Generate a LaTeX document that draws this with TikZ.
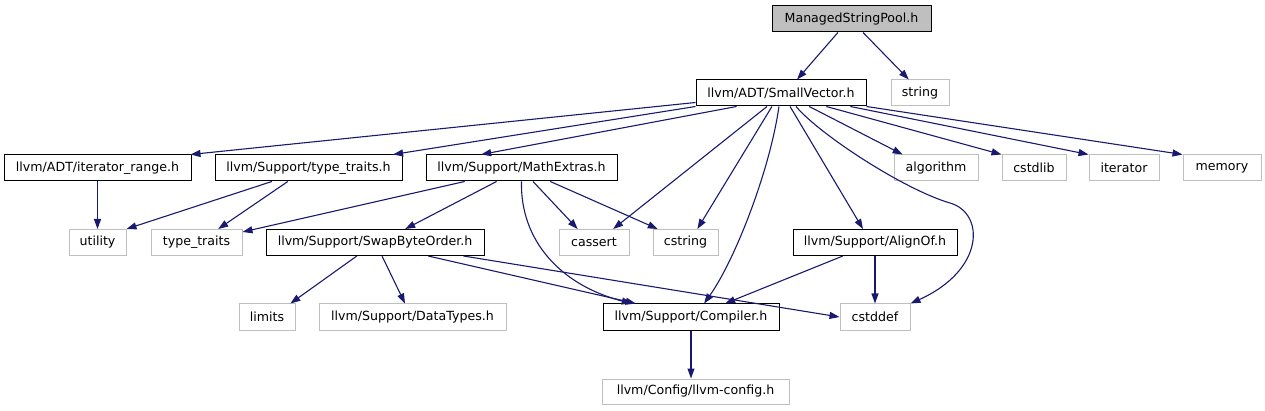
\documentclass[tikz,border=0pt]{standalone}
\usepackage{fontspec}
\setmainfont{DejaVu Sans}
\usetikzlibrary{arrows.meta,calc}
\definecolor{edgecol}{HTML}{191970}
\definecolor{extgray}{HTML}{BFBFBF}
\begin{document}
\begin{tikzpicture}[x=1pt,y=-1pt,
  box/.style={draw=black,line width=1pt,minimum height=26pt,inner sep=0pt,font=\fontsize{12.6}{14}\selectfont},
  ext/.style={box,draw=extgray},
  root/.style={box,fill=extgray},
  dep/.style={draw=edgecol,line width=1.1pt,-{Triangle[length=10pt,width=7pt]}}]
\useasboundingbox (0,0) rectangle (1265,411);
% row 0
\node[root,minimum width=159pt] (msp) at (851.5,19) {ManagedStringPool.h};
% row 1
\node[box,minimum width=170pt] (sv) at (781,93) {llvm/ADT/SmallVector.h};
\node[ext,minimum width=58pt] (string) at (920,93) {string};
% row 2
\node[box,minimum width=187pt] (ir) at (97.5,168) {llvm/ADT/iterator\_range.h};
\node[box,minimum width=187pt] (tth) at (308.5,168) {llvm/Support/type\_traits.h};
\node[box,minimum width=191pt] (me) at (521.5,168) {llvm/Support/MathExtras.h};
\node[ext,minimum width=84pt] (alg) at (936,168) {algorithm};
\node[ext,minimum width=64pt] (cstdlib) at (1034,168) {cstdlib};
\node[ext,minimum width=70pt] (iter) at (1124,168) {iterator};
\node[ext,minimum width=78pt] (mem) at (1222,168) {memory};
% row 3
\node[ext,minimum width=57pt] (util) at (97.5,242.5) {utility};
\node[ext,minimum width=91pt] (tt) at (196.5,242.5) {type\_traits};
\node[box,minimum width=218pt] (sbo) at (375,242.5) {llvm/Support/SwapByteOrder.h};
\node[ext,minimum width=70pt] (cassert) at (594,242.5) {cassert};
\node[ext,minimum width=65pt] (cstring) at (685.5,242.5) {cstring};
\node[box,minimum width=164pt] (align) at (875,242.5) {llvm/Support/AlignOf.h};
% row 4
\node[ext,minimum width=56pt] (limits) at (267,317) {limits};
\node[ext,minimum width=187pt] (dt) at (412.5,317) {llvm/Support/DataTypes.h};
\node[box,minimum width=176pt] (comp) at (691,317) {llvm/Support/Compiler.h};
\node[ext,minimum width=70pt] (cstddef) at (875,317) {cstddef};
% row 5
\node[ext,minimum width=187pt,minimum height=25pt] (cfg) at (695.5,391.5) {llvm/Config/llvm-config.h};

% edges
\draw[dep] ($(msp.south west)!0.415!(msp.south east)$) -- ($(sv.north west)!0.594!(sv.north east)$);
\draw[dep] ($(msp.south west)!0.572!(msp.south east)$) -- ($(string.north west)!0.31!(string.north east)$);

\draw[dep] ($(sv.south west)+(0,-4)$) -- ($(ir.north east)+(-1,0)$);
\draw[dep] (sv.south west) -- ($(tth.north west)!0.95!(tth.north east)$);
\draw[dep] ($(sv.south west)!0.24!(sv.south east)$) -- ($(me.north west)!0.29!(me.north east)$);
\draw[dep] ($(sv.south west)!0.418!(sv.south east)$) -- ($(cassert.north west)!0.77!(cassert.north east)$);
\draw[dep] ($(sv.south west)!0.447!(sv.south east)$) -- ($(cstring.north west)!0.68!(cstring.north east)$);
\draw[dep] ($(sv.south west)!0.488!(sv.south east)$) .. controls (770,170) and (735,260) .. ($(comp.north west)!0.574!(comp.north east)$);
\draw[dep] ($(sv.south west)!0.553!(sv.south east)$) -- ($(align.north west)!0.427!(align.north east)$);
\draw[dep] ($(sv.south west)!0.588!(sv.south east)$) .. controls (820,135) and (905,190) .. (950,203) .. controls (985,213) and (985,270) .. (cstddef.north east);
\draw[dep] ($(sv.south west)!0.665!(sv.south east)$) -- ($(alg.north west)!0.107!(alg.north east)$);
\draw[dep] ($(sv.south west)!0.765!(sv.south east)$) -- (cstdlib.north west);
\draw[dep] ($(sv.south west)!0.906!(sv.south east)$) -- (iter.north west);
\draw[dep] (sv.south east) -- (mem.north west);

\draw[dep] (ir.south) -- (util.north);
\draw[dep] ($(tth.south west)!0.305!(tth.south east)$) -- (util.north east);
\draw[dep] ($(tth.south west)!0.39!(tth.south east)$) -- ($(tt.north west)!0.736!(tt.north east)$);

\draw[dep] ($(me.south west)!0.204!(me.south east)$) -- ($(tt.north east)+(0,3)$);
\draw[dep] ($(me.south west)!0.37!(me.south east)$) -- ($(sbo.north west)!0.638!(sbo.north east)$);
\draw[dep] ($(me.south west)!0.56!(me.south east)$) -- ($(cassert.north west)!0.27!(cassert.north east)$);
\draw[dep] ($(me.south west)!0.65!(me.south east)$) -- ($(cstring.north west)!0.08!(cstring.north east)$);
\draw[dep] ($(me.south west)!0.50!(me.south east)$) .. controls (520,240) and (560,285) .. ($(comp.north west)!0.165!(comp.north east)$);

\draw[dep] ($(sbo.south west)!0.417!(sbo.south east)$) -- ($(limits.north west)!0.91!(limits.north east)$);
\draw[dep] ($(sbo.south west)!0.532!(sbo.south east)$) -- ($(dt.north west)!0.46!(dt.north east)$);
\draw[dep] ($(sbo.south west)!0.743!(sbo.south east)$) -- ($(comp.north west)!0.1875!(comp.north east)$);
\draw[dep] ($(sbo.south west)!0.904!(sbo.south east)$) -- (cstddef.west);

\draw[dep] ($(align.south west)!0.305!(align.south east)$) -- ($(comp.north west)!0.693!(comp.north east)$);
\draw[dep] (align.south) -- (cstddef.north);

\draw[dep] (comp.south) -- (comp.south |- cfg.north);
\end{tikzpicture}
\end{document}
